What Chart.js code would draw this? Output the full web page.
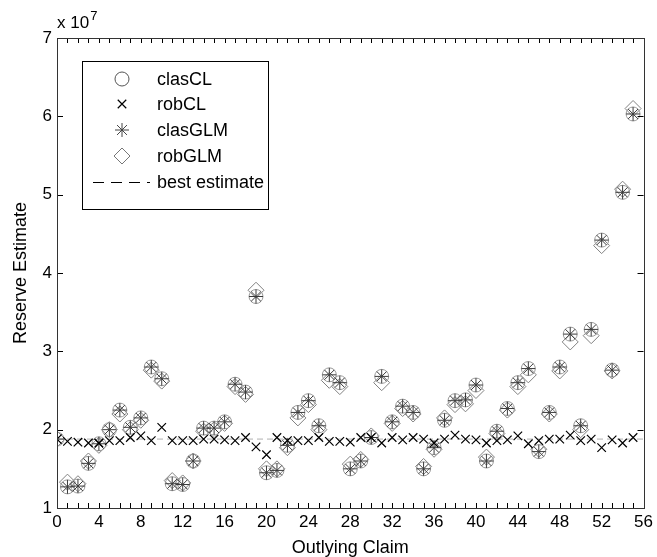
<!DOCTYPE html>
<html><head><meta charset="utf-8">
<script src="https://cdn.jsdelivr.net/npm/chart.js@4/dist/chart.umd.min.js"></script>
<style>html,body{margin:0;padding:0;background:#fff}</style>
</head><body>
<canvas id="c" width="657" height="557"></canvas>
<script>
// Outlying claim index (x)
const claims = [0,1,2,3,4,5,6,7,8,9,10,11,12,13,14,15,16,17,18,19,20,21,22,23,24,25,26,27,28,29,30,31,32,33,34,35,36,37,38,39,40,41,42,43,44,45,46,47,48,49,50,51,52,53,54,55];
// Reserve estimates in units of 10^7
const clasCL  = [1.88,1.27,1.28,1.57,1.82,2.00,2.25,2.03,2.15,2.80,2.65,1.31,1.30,1.60,2.02,2.02,2.10,2.58,2.48,3.70,1.45,1.48,1.80,2.22,2.37,2.05,2.70,2.60,1.50,1.60,1.90,2.68,2.10,2.30,2.22,1.50,1.77,2.12,2.37,2.38,2.57,1.60,1.98,2.27,2.60,2.78,1.72,2.22,2.80,3.22,2.05,3.28,4.42,2.76,5.03,6.03];
const robCL   = [1.88,1.85,1.84,1.83,1.83,1.86,1.86,1.90,1.92,1.86,2.03,1.86,1.86,1.86,1.88,1.88,1.87,1.86,1.90,1.78,1.68,1.90,1.86,1.86,1.86,1.90,1.85,1.85,1.84,1.90,1.90,1.83,1.90,1.87,1.90,1.88,1.83,1.88,1.93,1.88,1.87,1.83,1.86,1.87,1.92,1.82,1.86,1.88,1.88,1.93,1.86,1.88,1.77,1.87,1.83,1.90];
const clasGLM = [1.88,1.27,1.28,1.57,1.82,2.00,2.25,2.03,2.15,2.80,2.65,1.31,1.30,1.60,2.02,2.02,2.10,2.58,2.48,3.70,1.45,1.48,1.80,2.22,2.37,2.05,2.70,2.60,1.50,1.60,1.90,2.68,2.10,2.30,2.22,1.50,1.77,2.12,2.37,2.38,2.57,1.60,1.98,2.27,2.60,2.78,1.72,2.22,2.80,3.22,2.05,3.28,4.42,2.76,5.03,6.03];
const robGLM  = [1.88,1.33,1.31,1.60,1.80,2.00,2.20,2.00,2.12,2.76,2.62,1.35,1.32,1.60,1.98,2.00,2.08,2.55,2.45,3.78,1.50,1.50,1.77,2.15,2.32,2.00,2.63,2.55,1.56,1.62,1.92,2.60,2.08,2.27,2.20,1.53,1.75,2.15,2.32,2.33,2.50,1.65,1.95,2.25,2.55,2.70,1.75,2.20,2.75,3.12,2.00,3.20,4.35,2.75,5.07,6.10];
const bestEstimate = 1.88;
const xRange = [0, 56];
const yRange = [1, 7];
const seriesNames = ['clasCL','robCL','clasGLM','robGLM','best estimate'];

const pts = (ys) => claims.map((x,i)=>({x:x, y:ys[i]}));
const FONT = "'Liberation Sans', Arial, sans-serif";

const inwardTicks = {
  id:'inwardTicks',
  afterDraw(chart){
    const {ctx, chartArea:a, scales:{x, y}} = chart;
    ctx.save();
    ctx.strokeStyle = '#000'; ctx.lineWidth = 1;
    ctx.beginPath();
    for (let v = xRange[0]; v <= xRange[1]; v++) {
      const px = Math.round(x.getPixelForValue(v)) + 0.5;
      const len = 5;
      ctx.moveTo(px, a.bottom); ctx.lineTo(px, a.bottom - len);
      ctx.moveTo(px, a.top); ctx.lineTo(px, a.top + len);
    }
    for (let v = yRange[0]; v <= yRange[1]; v++) {
      const py = Math.round(y.getPixelForValue(v)) + 0.5;
      ctx.moveTo(a.left, py); ctx.lineTo(a.left + 6, py);
      ctx.moveTo(a.right, py); ctx.lineTo(a.right - 6, py);
    }
    ctx.stroke();
    // frame
    ctx.strokeStyle = '#333';
    ctx.strokeRect(Math.round(a.left)+0.5, Math.round(a.top)+0.5, Math.round(a.right-a.left), Math.round(a.bottom-a.top));
    // exponent label
    ctx.fillStyle = '#000';
    ctx.font = '17px ' + FONT;
    ctx.textBaseline = 'alphabetic'; ctx.textAlign = 'left';
    ctx.fillText('x 10', a.left, a.top - 10);
    const w = ctx.measureText('x 10').width;
    ctx.font = '13px ' + FONT;
    ctx.fillText('7', a.left + w + 1, a.top - 18);
    // legend
    const L = {x: 82, y: 61, w: 186, h: 148};
    ctx.fillStyle = '#fff';
    ctx.fillRect(L.x, L.y, L.w, L.h);
    ctx.strokeStyle = '#000';
    ctx.strokeRect(L.x + 0.5, L.y + 0.5, L.w, L.h);
    const rows = [79, 104, 130, 156, 182];
    const mx = 122, tx = 157;
    ctx.font = '18px ' + FONT;
    ctx.textBaseline = 'middle';
    const ds = chart.data.datasets;
    const legendColors = ['#555', '#000', '#444', '#777'];
    for (let i = 0; i < 4; i++) {
      const d = ds[i];
      ctx.save();
      ctx.strokeStyle = legendColors[i];
      ctx.fillStyle = 'rgba(0,0,0,0)';
      ctx.lineWidth = d.borderWidth;
      Chart.helpers.drawPoint(ctx, {pointStyle: d.pointStyle, radius: d.pointRadius, borderWidth: d.borderWidth, rotation: 0}, mx, rows[i]);
      ctx.restore();
      ctx.fillStyle = '#000';
      ctx.fillText(seriesNames[i], tx, rows[i] + 1);
    }
    ctx.save();
    ctx.strokeStyle = '#000'; ctx.lineWidth = 1; ctx.setLineDash([11,7]);
    ctx.beginPath(); ctx.moveTo(93, rows[4] + 0.5); ctx.lineTo(150, rows[4] + 0.5); ctx.stroke();
    ctx.restore();
    ctx.fillStyle = '#000';
    ctx.fillText(seriesNames[4], tx, rows[4] + 1);
    ctx.restore();
  }
};

new Chart(document.getElementById('c'), {
  type: 'scatter',
  data: {
    datasets: [
      {label: seriesNames[0], data: pts(clasCL), pointStyle: 'circle', pointRadius: 7, borderColor: '#9a9a9a', backgroundColor: 'rgba(0,0,0,0)', borderWidth: 1, order: 3},
      {label: seriesNames[1], data: pts(robCL), pointStyle: 'crossRot', pointRadius: 6, borderColor: '#000', backgroundColor: '#000', borderWidth: 1.2, order: 1},
      {label: seriesNames[2], data: pts(clasGLM), pointStyle: 'star', pointRadius: 7, borderColor: '#3a3a3a', backgroundColor: '#3a3a3a', borderWidth: 1, order: 2},
      {label: seriesNames[3], data: pts(robGLM), pointStyle: 'rectRot', pointRadius: 8, borderColor: '#808080', backgroundColor: 'rgba(0,0,0,0)', borderWidth: 1, order: 4},
      {label: seriesNames[4], type: 'line', data: [{x: xRange[0], y: bestEstimate}, {x: xRange[1], y: bestEstimate}], borderColor: '#b0b0b0', borderWidth: 1, borderDash: [6,4], pointRadius: 0, showLine: true, fill: false, order: 5}
    ]
  },
  options: {
    responsive: false,
    animation: false,
    layout: {padding: {top: 38, right: 12, left: 0, bottom: 0}},
    plugins: {legend: {display: false}, tooltip: {enabled: false}},
    scales: {
      x: {
        type: 'linear', min: xRange[0], max: xRange[1],
        grid: {display: false, drawTicks: false},
        border: {display: false},
        ticks: {stepSize: 4, color: '#000', font: {family: FONT, size: 17}, padding: 4, maxRotation: 0, autoSkip: false},
        title: {display: true, text: 'Outlying Claim', color: '#000', font: {family: FONT, size: 18, lineHeight: 1}, padding: {top: 0, bottom: 0}},
        afterFit(s){ s.height = 49; }
      },
      y: {
        type: 'linear', min: yRange[0], max: yRange[1],
        grid: {display: false, drawTicks: false},
        border: {display: false},
        ticks: {stepSize: 1, color: '#000', font: {family: FONT, size: 17}, padding: 5},
        title: {display: true, text: 'Reserve Estimate', color: '#000', font: {family: FONT, size: 18, lineHeight: 1}, padding: {top: 12, bottom: 0}},
        afterFit(s){ s.width = 57; }
      }
    }
  },
  plugins: [inwardTicks]
});
</script>
</body></html>
